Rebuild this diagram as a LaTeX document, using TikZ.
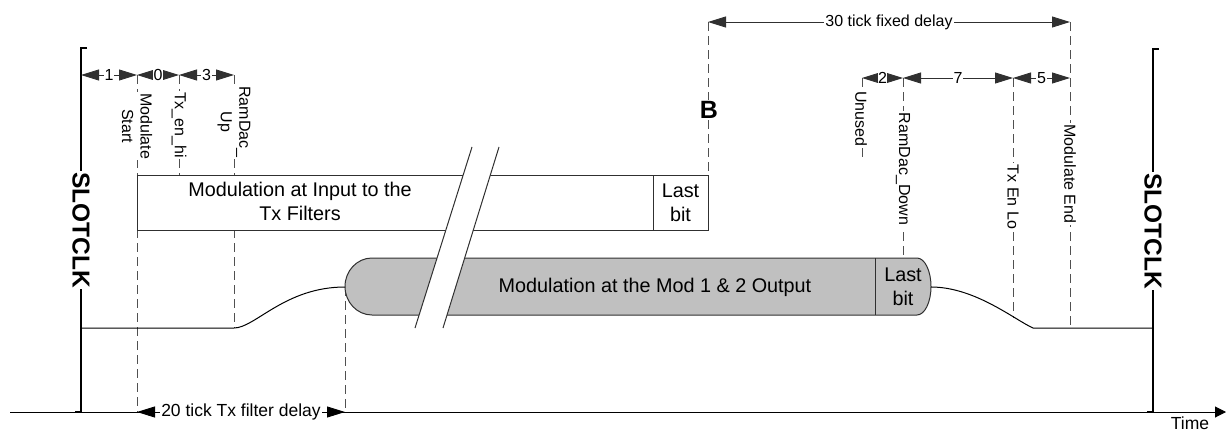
\documentclass[tikz,border=0pt]{standalone}
\usepackage{fontspec}
\setmainfont{Liberation Sans}
\usetikzlibrary{arrows.meta}
\definecolor{edge}{HTML}{303030}
\definecolor{guidec}{HTML}{505050}
\definecolor{modgray}{HTML}{C0C0C0}
\begin{document}
\begin{tikzpicture}[x=1pt,y=-1pt,
  dimline/.style={edge, line width=0.9pt, {Triangle[length=18pt,width=11pt]}-{Triangle[length=18pt,width=11pt]}},
  guide/.style={guidec, line width=1pt, dash pattern=on 9pt off 5pt},
  lbl/.style={fill=white, inner sep=1.5pt, text=black, font=\fontsize{16}{18.5}\selectfont},
  vlbl/.style={lbl, rotate=-90, align=center},
  clk/.style={line width=2.6pt, black},
  clklbl/.style={fill=white, inner sep=1pt, rotate=-90, font=\bfseries\fontsize{24.5}{28}\selectfont},
  boxline/.style={draw=edge, line width=1pt},
  sig/.style={black, line width=1pt},
  boxtext/.style={font=\fontsize{19.8}{24}\selectfont, align=center, inner sep=0pt}]
\useasboundingbox (0,0) rectangle (1226,431);

% ---- coordinates
\coordinate (ax0) at (10,412);
\coordinate (ax1) at (1226,412);
\coordinate (lc0) at (87,48);
\coordinate (lc1) at (81,48);
\coordinate (lc2) at (81,412);
\coordinate (lc3) at (75,412);
\coordinate (rc0) at (1159,49);
\coordinate (rc1) at (1153,49);
\coordinate (rc2) at (1153,412);
\coordinate (rc3) at (1147,412);

\coordinate (r1a) at (81,75);
\coordinate (r1b) at (137,75);
\coordinate (r1c) at (179,75);
\coordinate (r1d) at (234,75);

\coordinate (r2a) at (862,78);
\coordinate (r2b) at (903,78);
\coordinate (r2c) at (1013,78);
\coordinate (r2d) at (1070,78);

\coordinate (t30a) at (708,22);
\coordinate (t30b) at (1070,22);

\coordinate (b20a) at (137,412);
\coordinate (b20b) at (345,412);

% ---- axis
\draw[black, line width=1pt, -{Triangle[length=11pt,width=11pt]}] (ax0) -- (ax1);
\node[font=\fontsize{17.5}{20}\selectfont, inner sep=0pt] (time) at (1190,423) {Time};

% ---- guide (dashed) lines
\draw[guide] (r1b) -- (b20a);
\draw[guide] (r1c) -- (179,175);
\draw[guide] (r1d) -- (234,328);
\draw[guide] (345,287) -- (b20b);
\draw[guide] (t30a) -- (708,175);
\draw[guide] (r2a) -- (862,157);
\draw[guide] (r2b) -- (903,258);
\draw[guide] (r2c) -- (1013,318);
\draw[guide] (t30b) -- (1070,328);

% ---- input box
\draw[boxline, fill=white] (137,175) rectangle (708,230);
\draw[boxline] (653,175) -- (653,230);
\node[boxtext] (inputtxt) at (300,201.5) {Modulation at Input to the\\Tx Filters};
\node[boxtext] (lastbit1) at (680.5,202.5) {Last\\bit};

% ---- output (gray) box
\draw[boxline, fill=modgray]
  (372,258) -- (917,258)
  .. controls (924.7,258) and (931,270.8) .. (931,286.5)
  .. controls (931,302.2) and (924.7,315) .. (917,315)
  -- (372,315)
  .. controls (357.1,315) and (345,302.2) .. (345,286.5)
  .. controls (345,270.8) and (357.1,258) .. (372,258) -- cycle;
\draw[boxline] (875,258) -- (875,315);
\node[boxtext] (outtxt) at (655,287) {Modulation at the Mod 1 \& 2 Output};
\node[boxtext] (lastbit2) at (903,287) {Last\\bit};

% ---- signal
\draw[sig] (81,328) -- (234,328) .. controls (255,328) and (285,287) .. (345,287);
\draw[sig] (931,287) .. controls (975,287) and (1015,320) .. (1033,328) -- (1153,328);

% ---- break mark
\fill[white] (472,147) -- (499,147) -- (443,328) -- (415,328) -- cycle;
\draw[edge, line width=1pt] (472,147) -- (415,328);
\draw[edge, line width=1pt] (499,147) -- (443,328);

% ---- slot clocks
\draw[clk] (lc0) -- (lc1) -- (lc2) -- (lc3);
\draw[clk] (rc0) -- (rc1) -- (rc2) -- (rc3);
\node[clklbl] (slotl) at (81,230) {SLOTCLK};
\node[clklbl] (slotr) at (1153,231) {SLOTCLK};

% ---- dimension arrows
\draw[dimline] (r1a) -- node[lbl, inner sep=1pt] (d1) {1} (r1b);
\draw[dimline] (r1b) -- node[lbl, inner sep=0.5pt] (d0) {0} (r1c);
\draw[dimline] (r1c) -- node[lbl, inner sep=1pt] (d3) {3} (r1d);
\draw[dimline] (r2a) -- node[lbl, inner sep=0.5pt] (d2) {2} (r2b);
\draw[dimline] (r2b) -- node[lbl, inner sep=1pt] (d7) {7} (r2c);
\draw[dimline] (r2c) -- node[lbl, inner sep=1pt] (d5) {5} (r2d);
\draw[dimline] (t30a) -- node[lbl, inner sep=1pt] (d30) {30 tick fixed delay} (t30b);
\draw[dimline, black] (b20a) -- node[lbl, inner sep=1pt, font=\fontsize{17.5}{20}\selectfont] (d20) {20 tick Tx filter delay} (b20b);

% ---- vertical labels
\node[vlbl] (modstart) at (137,126) {Modulate\\Start};
\node[vlbl] (txenhi) at (179,125) {Tx\_en\_hi};
\node[vlbl] (ramup) at (234,122) {RamDac\_\\Up};
\node[fill=white, inner sep=1.5pt, font=\bfseries\fontsize{25}{28}\selectfont] (B) at (709,110) {B};
\node[vlbl] (unused) at (861,119) {Unused};
\node[vlbl] (ramdown) at (903,169) {RamDac\_Down};
\node[vlbl] (txenlo) at (1013,197) {Tx En Lo};
\node[vlbl] (modend) at (1070,174) {Modulate End};
\end{tikzpicture}
\end{document}
